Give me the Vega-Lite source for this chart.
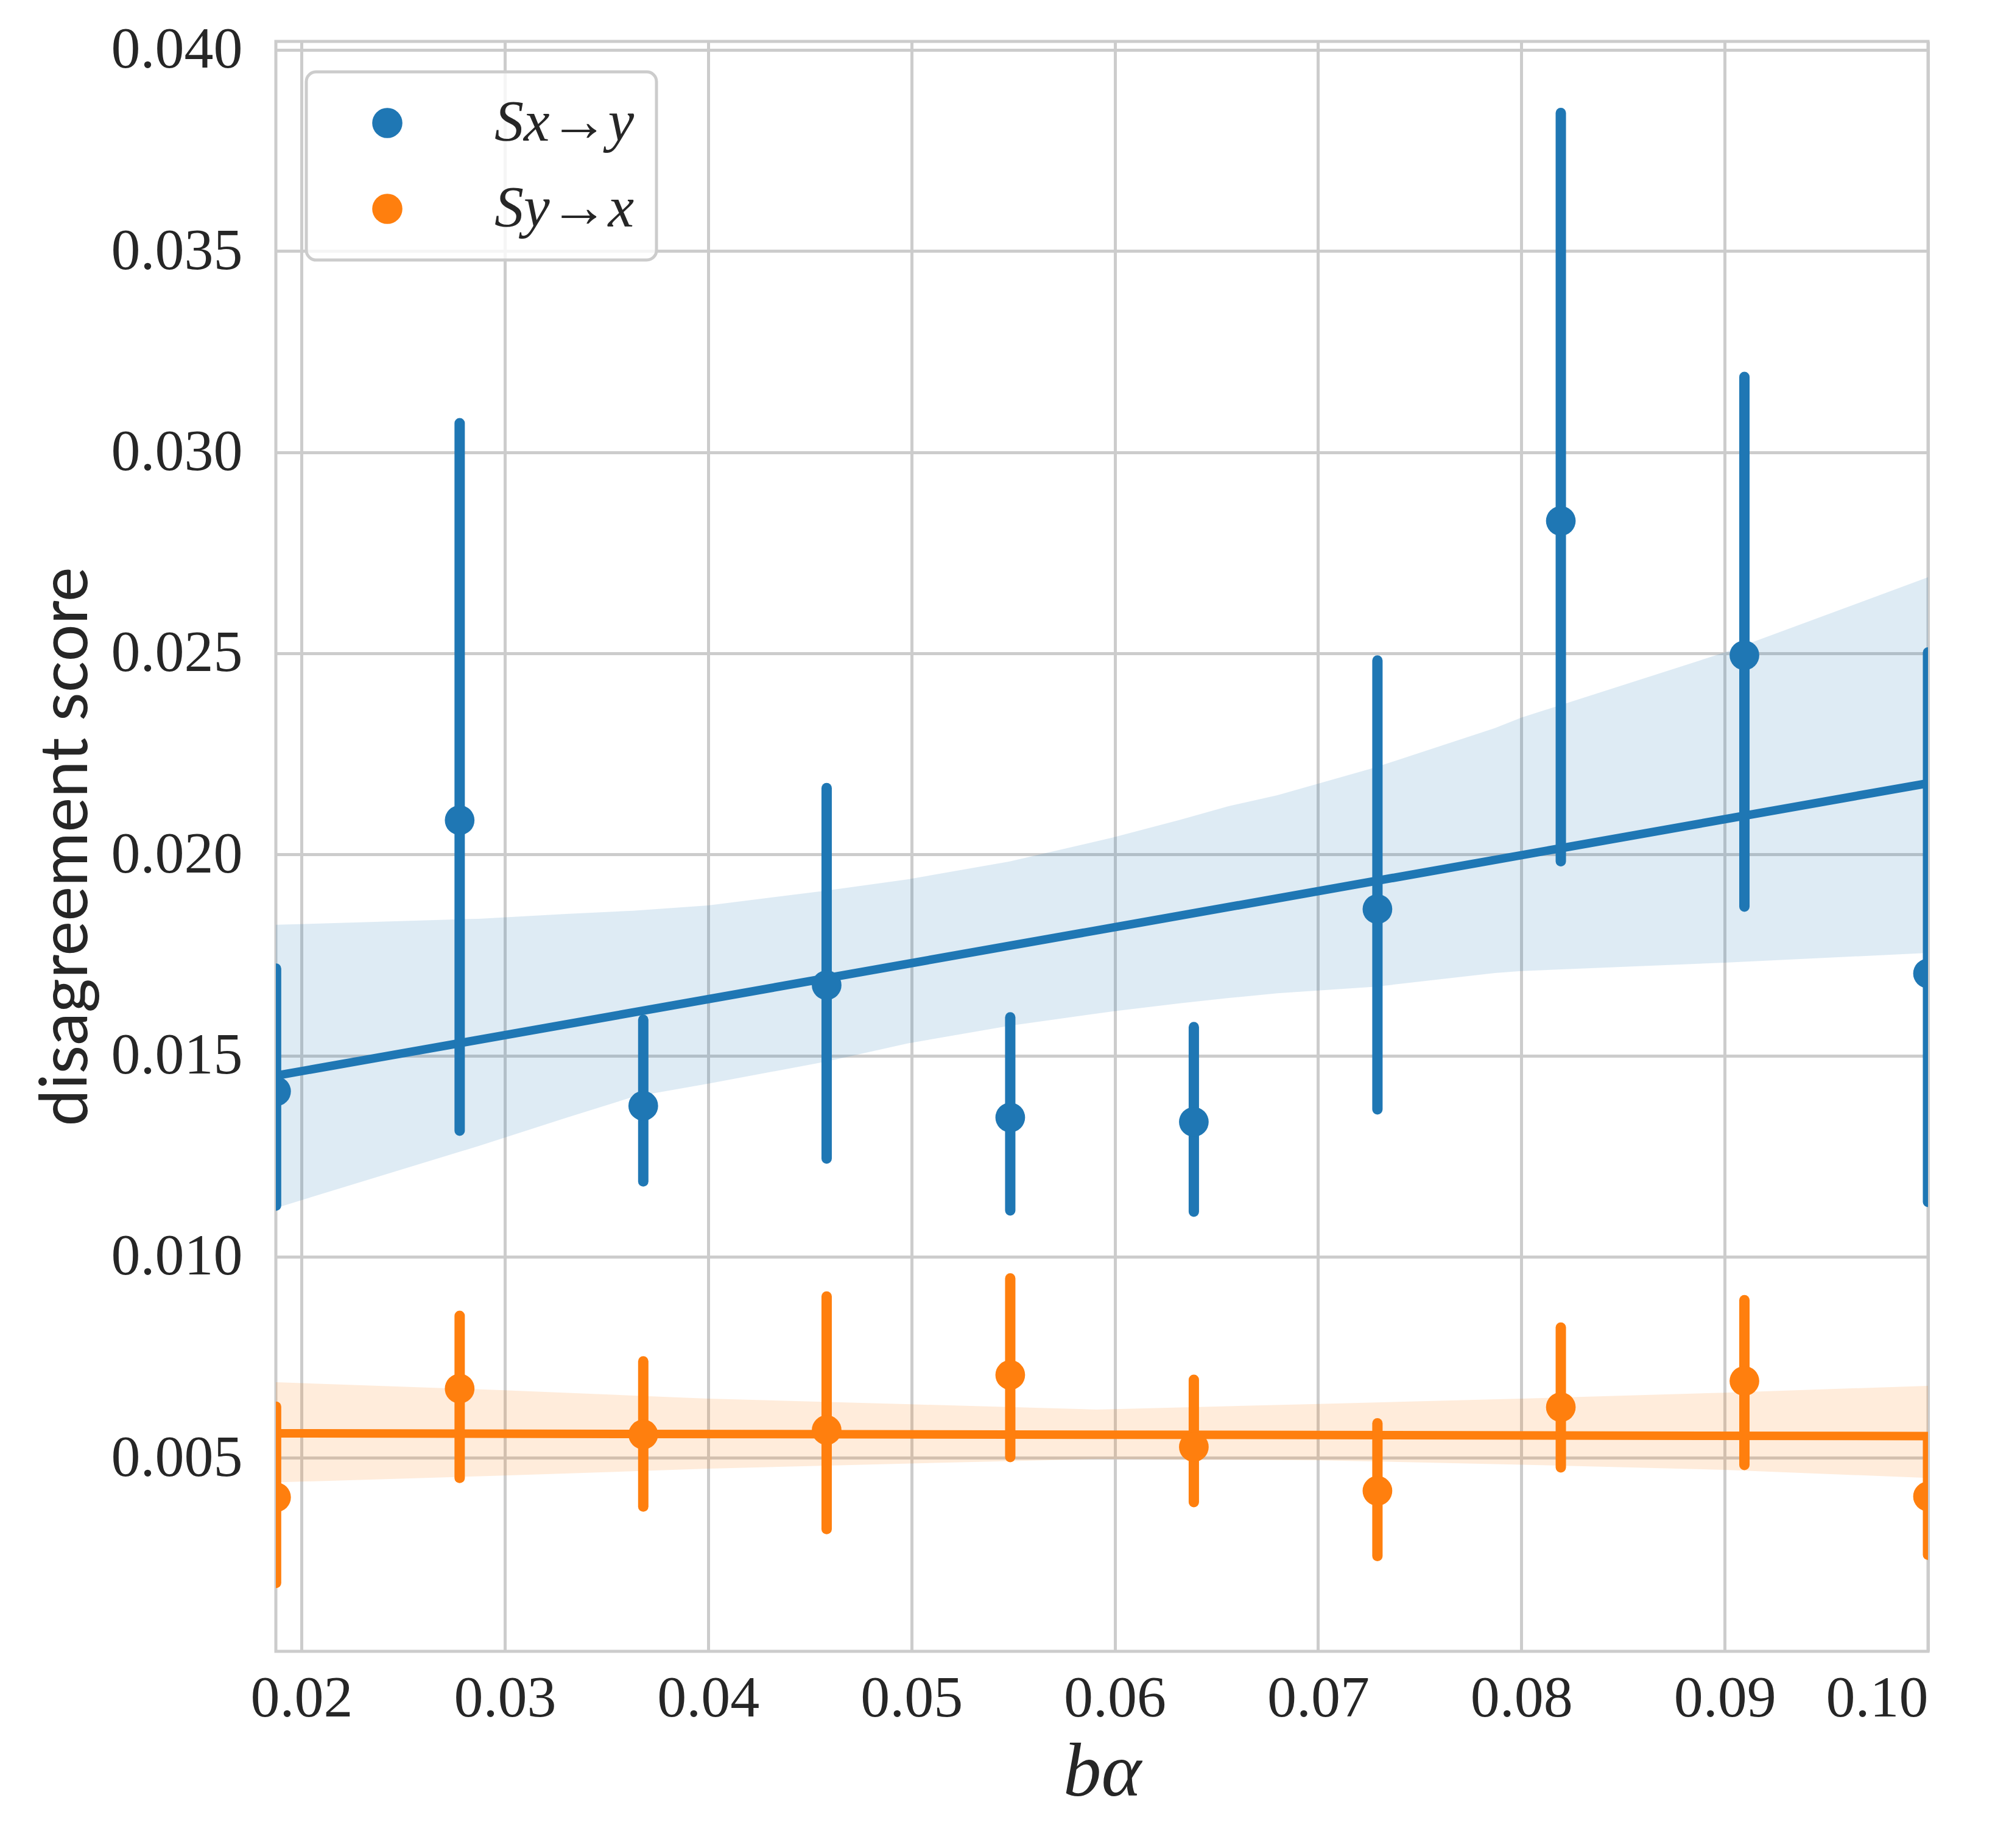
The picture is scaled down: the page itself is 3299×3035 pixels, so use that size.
{
  "$schema": "https://vega.github.io/schema/vega-lite/v6.json",
  "autosize": {"type": "none"},
  "padding": {"left": 453, "top": 68, "right": 133, "bottom": 323},
  "width": 2713,
  "height": 2644,
  "background": "white",
  "config": {
    "view": {"stroke": "#cccccc", "strokeWidth": 5},
    "axis": {
      "domain": false,
      "ticks": false,
      "grid": true,
      "gridColor": "#cccccc",
      "gridWidth": 5,
      "labelFont": "Liberation Serif",
      "labelFontSize": 96,
      "labelLimit": 1000,
      "labelColor": "#262626",
      "titleColor": "#262626",
      "titleFontWeight": "normal"
    }
  },
  "resolve": {"legend": {"color": "independent"}},
  "datasets": {
    "band": [
      {"series": "Sx→y", "x": 0.01874, "lo": 0.01121, "hi": 0.01825},
      {"series": "Sx→y", "x": 0.0287, "lo": 0.01275, "hi": 0.0184},
      {"series": "Sx→y", "x": 0.033, "lo": 0.01345, "hi": 0.01852},
      {"series": "Sx→y", "x": 0.0363, "lo": 0.01397, "hi": 0.0186},
      {"series": "Sx→y", "x": 0.04, "lo": 0.0143, "hi": 0.01873},
      {"series": "Sx→y", "x": 0.0458, "lo": 0.01485, "hi": 0.0191},
      {"series": "Sx→y", "x": 0.0498, "lo": 0.0153, "hi": 0.01938},
      {"series": "Sx→y", "x": 0.0548, "lo": 0.01574, "hi": 0.01982},
      {"series": "Sx→y", "x": 0.0599, "lo": 0.0161, "hi": 0.02042},
      {"series": "Sx→y", "x": 0.0632, "lo": 0.0163, "hi": 0.02086},
      {"series": "Sx→y", "x": 0.0656, "lo": 0.01643, "hi": 0.0212},
      {"series": "Sx→y", "x": 0.068, "lo": 0.01655, "hi": 0.02147},
      {"series": "Sx→y", "x": 0.0728, "lo": 0.01671, "hi": 0.02216},
      {"series": "Sx→y", "x": 0.0787, "lo": 0.01705, "hi": 0.02314},
      {"series": "Sx→y", "x": 0.08, "lo": 0.0171, "hi": 0.0234},
      {"series": "Sx→y", "x": 0.09, "lo": 0.01731, "hi": 0.02502},
      {"series": "Sx→y", "x": 0.1, "lo": 0.01755, "hi": 0.02689},
      {"series": "Sy→x", "x": 0.01874, "lo": 0.00439, "hi": 0.00688},
      {"series": "Sy→x", "x": 0.03, "lo": 0.00456, "hi": 0.00668},
      {"series": "Sy→x", "x": 0.04, "lo": 0.00473, "hi": 0.00647},
      {"series": "Sy→x", "x": 0.05, "lo": 0.00486, "hi": 0.00633},
      {"series": "Sy→x", "x": 0.0591, "lo": 0.00497, "hi": 0.0062},
      {"series": "Sy→x", "x": 0.07, "lo": 0.00494, "hi": 0.00634},
      {"series": "Sy→x", "x": 0.08, "lo": 0.00483, "hi": 0.00647},
      {"series": "Sy→x", "x": 0.09, "lo": 0.0047, "hi": 0.00662},
      {"series": "Sy→x", "x": 0.1, "lo": 0.0045, "hi": 0.00679}
    ],
    "fit": [
      {"series": "Sx→y", "x": 0.01874, "y": 0.0145},
      {"series": "Sx→y", "x": 0.1, "y": 0.02177},
      {"series": "Sy→x", "x": 0.01874, "y": 0.00561},
      {"series": "Sy→x", "x": 0.1, "y": 0.00554}
    ],
    "pts": [
      {"series": "Sx→y", "x": 0.01875, "mean": 0.01411, "lo": 0.01127, "hi": 0.01716},
      {"series": "Sx→y", "x": 0.02778, "mean": 0.02085, "lo": 0.01313, "hi": 0.03072},
      {"series": "Sx→y", "x": 0.03681, "mean": 0.01375, "lo": 0.01187, "hi": 0.01589},
      {"series": "Sx→y", "x": 0.04583, "mean": 0.01675, "lo": 0.01244, "hi": 0.02165},
      {"series": "Sx→y", "x": 0.05486, "mean": 0.01346, "lo": 0.01115, "hi": 0.01595},
      {"series": "Sx→y", "x": 0.06389, "mean": 0.01335, "lo": 0.01112, "hi": 0.01571},
      {"series": "Sx→y", "x": 0.07292, "mean": 0.01864, "lo": 0.01366, "hi": 0.02482},
      {"series": "Sx→y", "x": 0.08194, "mean": 0.02829, "lo": 0.01983, "hi": 0.03843},
      {"series": "Sx→y", "x": 0.09097, "mean": 0.02495, "lo": 0.0187, "hi": 0.03187},
      {"series": "Sx→y", "x": 0.1, "mean": 0.01704, "lo": 0.01136, "hi": 0.02502},
      {"series": "Sy→x", "x": 0.01875, "mean": 0.00402, "lo": 0.00189, "hi": 0.00627},
      {"series": "Sy→x", "x": 0.02778, "mean": 0.00672, "lo": 0.0045, "hi": 0.00853},
      {"series": "Sy→x", "x": 0.03681, "mean": 0.00558, "lo": 0.00379, "hi": 0.0074},
      {"series": "Sy→x", "x": 0.04583, "mean": 0.00569, "lo": 0.00323, "hi": 0.00901},
      {"series": "Sy→x", "x": 0.05486, "mean": 0.00706, "lo": 0.00502, "hi": 0.00946},
      {"series": "Sy→x", "x": 0.06389, "mean": 0.00527, "lo": 0.0039, "hi": 0.00694},
      {"series": "Sy→x", "x": 0.07292, "mean": 0.00418, "lo": 0.00256, "hi": 0.00586},
      {"series": "Sy→x", "x": 0.08194, "mean": 0.00626, "lo": 0.00476, "hi": 0.00824},
      {"series": "Sy→x", "x": 0.09097, "mean": 0.00691, "lo": 0.00482, "hi": 0.00892},
      {"series": "Sy→x", "x": 0.1, "mean": 0.00404, "lo": 0.00259, "hi": 0.0055}
    ]
  },
  "encoding": {
    "x": {
      "field": "x", "type": "quantitative",
      "scale": {"domain": [0.01874, 0.1], "nice": false, "zero": false},
      "axis": {
        "values": [0.02, 0.03, 0.04, 0.05, 0.06, 0.07, 0.08, 0.09, 0.1],
        "format": ".2f",
        "labelPadding": 30,
        "title": "bα",
        "titleFont": "Liberation Serif",
        "titleFontStyle": "italic",
        "titleFontSize": 125,
        "titlePadding": 12
      }
    }
  },
  "layer": [
    {
      "data": {"name": "band"},
      "mark": {"type": "area", "opacity": 0.15, "clip": true},
      "encoding": {
        "y": {
          "field": "lo", "type": "quantitative",
          "scale": {"domain": [0.00019, 0.04021], "nice": false, "zero": false},
          "axis": {
            "values": [0.005, 0.01, 0.015, 0.02, 0.025, 0.03, 0.035, 0.04],
            "format": ".3f",
            "labelPadding": 55,
            "title": "disagreement score",
            "titleFont": "Lato",
            "titleFontSize": 108,
            "titlePadding": 88
          }
        },
        "y2": {"field": "hi"},
        "color": {
          "field": "series", "type": "nominal",
          "scale": {"domain": ["Sx→y", "Sy→x"], "range": ["#1f77b4", "#ff7f0e"]},
          "legend": null
        }
      }
    },
    {
      "data": {"name": "fit"},
      "mark": {"type": "line", "strokeWidth": 14, "clip": true},
      "encoding": {
        "y": {"field": "y", "type": "quantitative"},
        "color": {"field": "series", "type": "nominal", "legend": null}
      }
    },
    {
      "data": {"name": "pts"},
      "mark": {"type": "rule", "strokeWidth": 17, "strokeCap": "round", "clip": true},
      "encoding": {
        "y": {"field": "lo", "type": "quantitative"},
        "y2": {"field": "hi"},
        "color": {"field": "series", "type": "nominal", "legend": null}
      }
    },
    {
      "data": {"name": "pts"},
      "mark": {"type": "circle", "size": 2376, "opacity": 1, "clip": true},
      "encoding": {
        "y": {"field": "mean", "type": "quantitative"},
        "color": {
          "field": "series", "type": "nominal",
          "legend": {
            "title": null,
            "orient": "top-left",
            "offset": 50,
            "fillColor": "rgba(255,255,255,0.8)",
            "strokeColor": "#cccccc",
            "cornerRadius": 16,
            "padding": 36,
            "rowPadding": 45,
            "symbolType": "circle",
            "symbolSize": 2460,
            "symbolOpacity": 1,
            "symbolStrokeWidth": 0,
            "symbolOffset": 49,
            "labelOffset": 128,
            "labelFont": "Liberation Serif",
            "labelFontStyle": "italic",
            "labelFontSize": 96,
            "labelLimit": 1000,
            "labelColor": "#262626",
            "encode": {
              "legend": {"update": {"strokeWidth": {"value": 5}}}
            }
          }
        }
      }
    }
  ]
}
